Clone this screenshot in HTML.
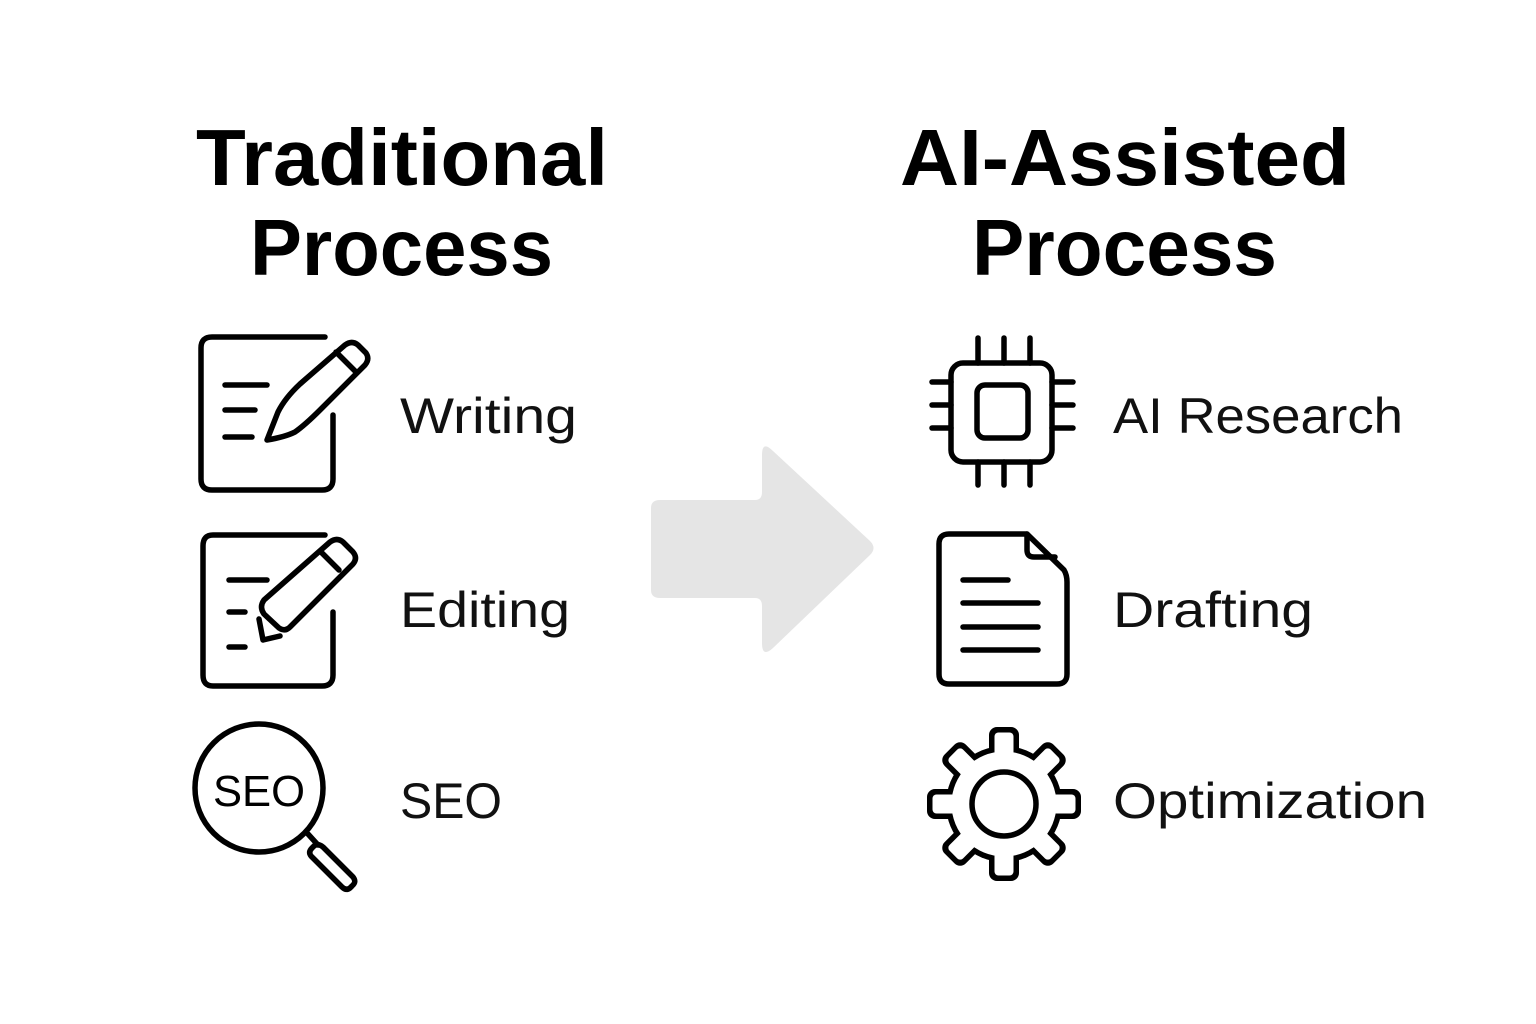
<!DOCTYPE html>
<html><head><meta charset="utf-8"><style>html,body{margin:0;padding:0;background:#fff}svg{display:block}</style></head>
<body>
<svg width="1536" height="1024" viewBox="0 0 1536 1024" xmlns="http://www.w3.org/2000/svg" font-family="Liberation Sans, sans-serif">
<rect width="1536" height="1024" fill="#fff"/>
<g font-weight="bold" font-size="80" fill="#000">
<text x="196" y="185" textLength="412" lengthAdjust="spacingAndGlyphs">Traditional</text>
<text x="250" y="275" textLength="303" lengthAdjust="spacingAndGlyphs">Process</text>
<text x="900" y="185" textLength="450" lengthAdjust="spacingAndGlyphs">AI-Assisted</text>
<text x="972" y="275" textLength="305" lengthAdjust="spacingAndGlyphs">Process</text>
</g>
<g font-size="50" fill="#111">
<text x="400" y="433" textLength="177" lengthAdjust="spacingAndGlyphs">Writing</text>
<text x="400" y="627" textLength="170" lengthAdjust="spacingAndGlyphs">Editing</text>
<text x="400" y="818" textLength="102" lengthAdjust="spacingAndGlyphs">SEO</text>
<text x="1113" y="433" textLength="290" lengthAdjust="spacingAndGlyphs">AI Research</text>
<text x="1113" y="627" textLength="200" lengthAdjust="spacingAndGlyphs">Drafting</text>
<text x="1113" y="818" textLength="314" lengthAdjust="spacingAndGlyphs">Optimization</text>
</g>
<path d="M660 500 H755 Q762 500 762 492 V455 Q762 440 773 451 L870 541 Q877 548 870 555 L773 648 Q762 658 762 643 V606 Q762 598 755 598 H660 Q651 598 651 590 V508 Q651 500 660 500 Z" fill="#e5e5e5"/>
<g fill="none" stroke="#000" stroke-width="5.5" stroke-linecap="round" stroke-linejoin="round">
<path d="M325 337 H212 Q201 337 201 348 V479 Q201 490 212 490 H322 Q333 490 333 479 V415"/>
<path d="M225 385 H267 M225 410 H255 M225 437 H252"/>
<path d="M267 440 L278 412 Q285 398 300 384 L345 345 Q352 340 358 345 L366 353 Q370 359 365 365 L320 410 Q305 425 295 432 Q285 437 267 440 Z M336 352 L356 372"/>
<path d="M325 535 H213 Q203 535 203 546 V675 Q203 686 213 686 H322 Q333 686 333 675 V612"/>
<path d="M229 580 H267 M229 612 H245 M229 647 H245"/>
<path d="M264 600 L330 542 Q337 537 343 542 L353 552 Q358 558 353 564 L290 627 Q285 632 279 628 L264 614 Q259 607 264 600 Z M320 551 L339 570"/>
<path d="M259 619 L263 640 L280 636"/>
<circle cx="259" cy="788" r="64"/>
<path d="M308 834 L318 845"/>
<path d="M323 847 L353 877 Q357 882 352 886 L350 888 Q346 891 342 887 L311 856 Q308 852 312 848 L314 846 Q318 843 323 847 Z"/>
<rect x="951" y="363" width="101" height="99" rx="12"/>
<rect x="977" y="385" width="51" height="53" rx="8"/>
<path d="M978 338 V363 M1004 338 V363 M1030 338 V363 M978 462 V485 M1004 462 V485 M1030 462 V485 M932 382 H951 M932 405 H951 M932 428 H951 M1052 382 H1073 M1052 405 H1073 M1052 428 H1073"/>
<path d="M949 534 H1027 L1064 570 Q1067 575 1067 582 V674 Q1067 684 1057 684 H949 Q939 684 939 674 V544 Q939 534 949 534 Z"/>
<path d="M1027 534 V550 Q1027 557 1034 557 H1055"/>
<path d="M963 580 H1008 M963 603 H1038 M963 627 H1038 M963 650 H1038"/>
</g>
<g transform="translate(1004,804)">
<g fill="#000">
<circle r="58"/>
<g id="t"><rect x="-15" y="-77" width="30" height="30" rx="8"/></g>
<use href="#t" transform="rotate(45)"/><use href="#t" transform="rotate(90)"/><use href="#t" transform="rotate(135)"/><use href="#t" transform="rotate(180)"/><use href="#t" transform="rotate(225)"/><use href="#t" transform="rotate(270)"/><use href="#t" transform="rotate(315)"/>
</g>
<g fill="#fff">
<circle r="52.5"/>
<g id="w"><rect x="-9.5" y="-71.5" width="19" height="30" rx="4"/></g>
<use href="#w" transform="rotate(45)"/><use href="#w" transform="rotate(90)"/><use href="#w" transform="rotate(135)"/><use href="#w" transform="rotate(180)"/><use href="#w" transform="rotate(225)"/><use href="#w" transform="rotate(270)"/><use href="#w" transform="rotate(315)"/>
</g>
<circle r="32" fill="none" stroke="#000" stroke-width="5.5"/>
</g>
<text x="259" y="806" font-size="44" text-anchor="middle" fill="#000" textLength="92" lengthAdjust="spacingAndGlyphs">SEO</text>
</svg>
</body></html>
